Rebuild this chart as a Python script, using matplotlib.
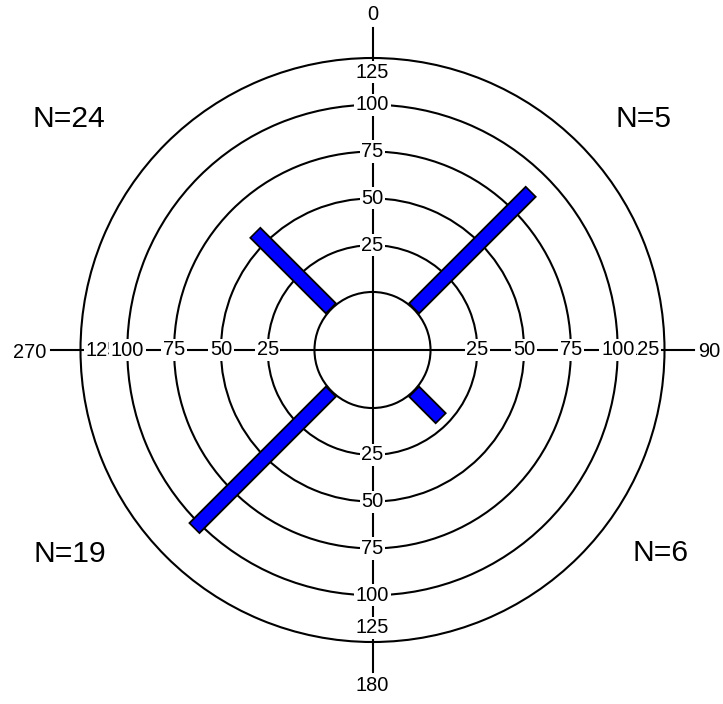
import numpy as np
import matplotlib
matplotlib.use('Agg')
import matplotlib.pyplot as plt

plt.rcParams['font.family'] = ['Liberation Sans', 'DejaVu Sans']

# Data
directions = [45, 135, 225, 315]          # degrees, clockwise from north
values = [89, 21, 104, 58]
n_labels = ['N=5', 'N=6', 'N=19', 'N=24']
ring_values = [25, 50, 75, 100]
outer_value = 125
cardinal_angles = [0, 90, 180, 270]
cardinal_labels = ['0', '90', '180', '270']

hole = 31   # size of the empty centre, in data units

W, H = 723, 704
fig = plt.figure(figsize=(W / 100, H / 100), dpi=100)
R = 292
cx, cy = 372.5, 350
ax = fig.add_axes([(cx - R) / W, (H - cy - R) / H, 2 * R / W, 2 * R / H],
                  projection='polar')
ax.set_theta_zero_location('N')
ax.set_theta_direction(-1)

# bars as thick radial strokes (black edge + blue fill)
theta = np.deg2rad(directions)
for t, v in zip(theta, values):
    ax.plot([t, t], [0, v], color='black', lw=11.5, solid_capstyle='butt', zorder=3)
    ax.plot([t, t], [0.9, v - 0.9], color='#0000ff', lw=8.8, solid_capstyle='butt', zorder=3.1)

# cross lines through the centre, running past the outer circle
for a in cardinal_angles:
    t = np.deg2rad(a)
    ax.plot([t, t], [-hole, 141], color='black', lw=1.5, clip_on=False, zorder=2)

ax.set_ylim(0, outer_value)
ax.set_rorigin(-hole)
ax.set_yticks(ring_values)
ax.set_xticks([])
ax.set_yticklabels([])
ax.tick_params(length=0)
ax.yaxis.grid(True, color='black', lw=1.5, ls='-')
ax.xaxis.grid(False)
for sp in ax.spines.values():
    sp.set_color('black')
    sp.set_linewidth(1.5)

box = dict(boxstyle='square,pad=0.08', fc='white', ec='none')

# ring labels on the four axes; the outer value sits just inside the edge
align_125 = {0: ('center', 'top'), 90: ('right', 'center'),
             180: ('center', 'bottom'), 270: ('left', 'center')}
for a in cardinal_angles:
    t = np.deg2rad(a)
    ha, va = align_125[a]
    ax.text(t, 122.5, str(outer_value), ha=ha, va=va, fontsize=14.4,
            bbox=box, zorder=5)
    for r in ring_values[::-1]:
        ax.text(t, r, str(r), ha='center', va='center', fontsize=14.4,
                bbox=box, zorder=5)

# compass labels
align_card = {0: ('center', 'bottom'), 90: ('left', 'center_baseline'),
              180: ('center', 'top'), 270: ('right', 'center_baseline')}
for a, lab in zip(cardinal_angles, cardinal_labels):
    ha, va = align_card[a]
    ax.text(np.deg2rad(a), 143, lab, ha=ha, va=va, fontsize=14.4, zorder=5)

# sample counts in the corners
n_pos = [(643, 127), (660.5, 561), (70, 562), (69, 127)]
for lab, (x, y) in zip(n_labels, n_pos):
    fig.text(x / W, 1 - y / H, lab, ha='center', va='baseline', fontsize=21.6)

fig.savefig('out.png', dpi=100)
